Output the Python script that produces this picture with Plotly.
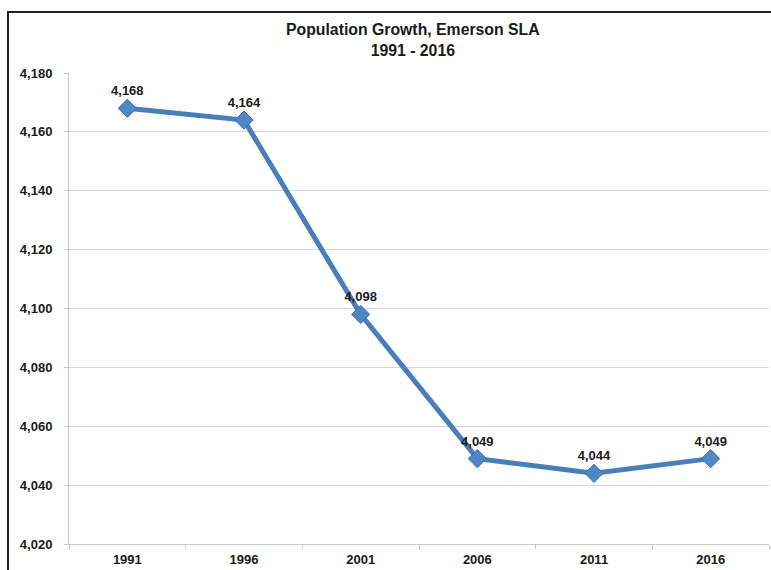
import plotly.graph_objects as go

# Census years and population counts
years = ["1991", "1996", "2001", "2006", "2011", "2016"]
population = [4168, 4164, 4098, 4049, 4044, 4049]
value_labels = ["4,168", "4,164", "4,098", "4,049", "4,044", "4,049"]

W, H = 771, 570
ML, MR, MT, MB = 69, 2, 73, 26
PW, PH = W - ML - MR, H - MT - MB


def px_x(px):
    return (px - ML) / PW


def px_y(py):
    return (H - MB - py) / PH


FONT = "Liberation Sans, Arial, sans-serif"
BLUE = "#4A7EBB"
TEXT = "#1a1a1a"

fig = go.Figure()
fig.add_trace(go.Scatter(
    x=years,
    y=population,
    mode="lines+markers+text",
    line=dict(color=BLUE, width=5),
    marker=dict(symbol="diamond", size=14, color="#4F86C6",
                line=dict(color="#3B6EA8", width=1)),
    text=value_labels,
    textposition="top center",
    textfont=dict(family=FONT, size=13, color=TEXT, weight="bold"),
    cliponaxis=False,
    showlegend=False,
))

fig.update_xaxes(
    type="category",
    range=[-0.5, len(years) - 0.5],
    showgrid=False,
    showline=True, linecolor="#c8c8c8", linewidth=1,
    ticks="outside", tickson="boundaries", ticklen=4, tickcolor="#c8c8c8",
    ticklabelstandoff=3,
    tickfont=dict(family=FONT, size=13, color=TEXT, weight="bold"),
    zeroline=False,
)
fig.update_yaxes(
    range=[4020, 4180], dtick=20, tickformat=",",
    showgrid=True, gridcolor="#d9d9d9", gridwidth=1,
    showline=True, linecolor="#c8c8c8", linewidth=1,
    ticks="outside", ticklen=4, tickcolor="#c8c8c8",
    ticklabelstandoff=9,
    tickfont=dict(family=FONT, size=13, color=TEXT, weight="bold"),
    zeroline=False,
)

fig.add_annotation(
    x=px_x(413), y=px_y(40), xref="paper", yref="paper",
    xanchor="center", yanchor="middle",
    text="Population Growth, Emerson SLA<br>1991 - 2016",
    showarrow=False, align="center",
    font=dict(family=FONT, size=15.8, color=TEXT, weight="bold"),
)

# Chart frame
fig.add_shape(
    type="rect", xref="paper", yref="paper",
    x0=px_x(8), x1=px_x(774), y0=px_y(574), y1=px_y(12),
    line=dict(color="#222222", width=2),
    fillcolor="rgba(0,0,0,0)", layer="above",
)

fig.update_layout(
    width=W, height=H,
    margin=dict(l=ML, r=MR, t=MT, b=MB),
    paper_bgcolor="white", plot_bgcolor="white",
    font=dict(family=FONT),
)

fig.write_html("out.html")
